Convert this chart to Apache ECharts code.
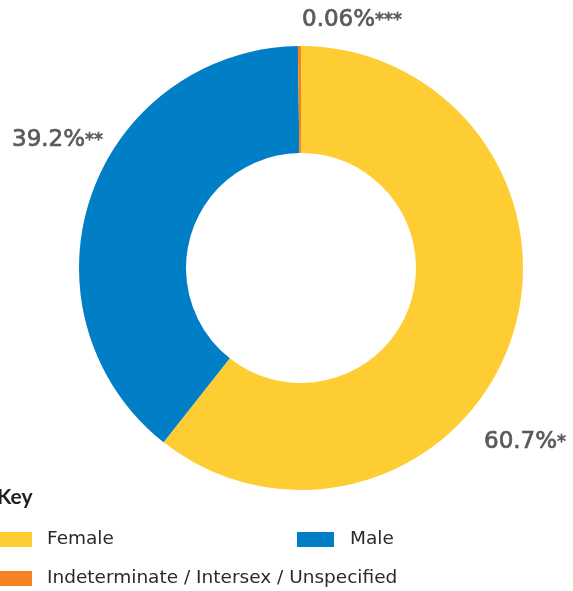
<!DOCTYPE html>
<html><head><meta charset="utf-8">
<script src="https://cdn.jsdelivr.net/npm/echarts@6/dist/echarts.min.js"></script>
<style>html,body{margin:0;padding:0;background:#fff}#c{width:573px;height:591px}</style>
</head><body><div id="c"></div>
<script>
const categories = ['Female', 'Male', 'Indeterminate / Intersex / Unspecified'];
const values = [60.7, 39.2, 0.06];
const labelTexts = ['60.7%', '39.2%', '0.06%'];
const labelMarks = ['*', '**', '***'];
const colors = ['#FECD34', '#007EC6', '#F58220'];

const labelPos = [[484, 442], [12, 140], [302, 20]];
const chart = echarts.init(document.getElementById('c'));
const font = 'Lato, "Noto Sans", sans-serif';
const legFont = '"DejaVu Sans", sans-serif';
function leg(name, left, top, w, pad) {
  return {
    data: [name], left: left, top: top, padding: 0,
    icon: 'rect', itemWidth: w, itemHeight: 15, orient: 'horizontal',
    selectedMode: false,
    textStyle: { fontFamily: legFont, fontSize: 18.5, color: '#2a2a2a', padding: [0, 0, 0, pad] }
  };
}
chart.setOption({
  animation: false,
  color: colors,
  graphic: [{
    type: 'text', x: -3, y: 497,
    style: { text: 'Key', fontFamily: font, fontSize: 21, fontWeight: 'bold', fill: '#222', textVerticalAlign: 'middle' }
  }],
  legend: [
    leg(categories[0], 0, 530, 32, 10),
    leg(categories[1], 297, 530, 37, 11),
    leg(categories[2], 0, 569, 32, 10)
  ],
  series: [{
    type: 'pie',
    center: [301, 268],
    radius: [115, 222],
    startAngle: 90,
    clockwise: true,
    minAngle: 0.8,
    avoidLabelOverlap: false,
    labelLine: { show: false },
    label: {
      show: true,
      position: 'outside',
      formatter: p => '{v|' + labelTexts[p.dataIndex] + '}{s|' + labelMarks[p.dataIndex] + '}',
      rich: {
        v: { fontFamily: legFont, fontSize: 23, color: '#5a5a5a', lineHeight: 26, textBorderColor: '#5a5a5a', textBorderWidth: 0.7 },
        s: { fontFamily: legFont, fontSize: 18, color: '#5a5a5a', lineHeight: 26, textBorderColor: '#5a5a5a', textBorderWidth: 0.7 }
      }
    },
    labelLayout: p => ({ x: labelPos[p.dataIndex][0], y: labelPos[p.dataIndex][1], align: 'left', verticalAlign: 'middle' }),
    data: categories.map((n, i) => ({ name: n, value: values[i] }))
  }]
});
</script></body></html>
